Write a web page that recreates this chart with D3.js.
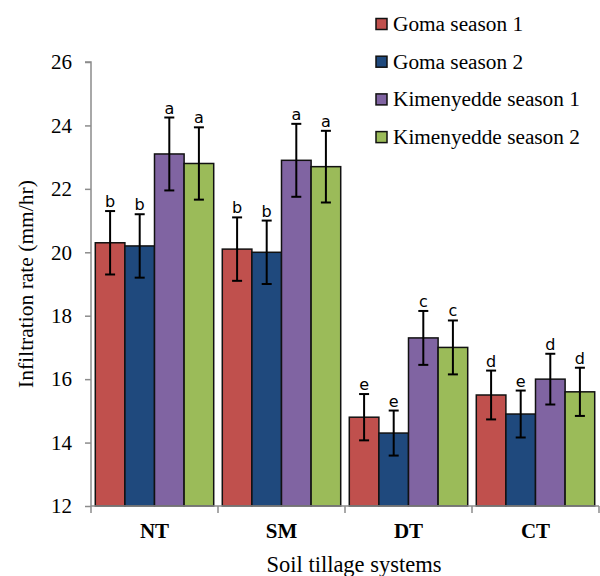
<!DOCTYPE html>
<html>
<head>
<meta charset="utf-8">
<script src="https://cdn.jsdelivr.net/npm/d3@7"></script>
<style>
  html, body { margin: 0; padding: 0; background: #fff; }
  svg { display: block; }
</style>
</head>
<body>
<svg id="chart" width="600" height="576"></svg>
<script>
// Tillage systems and the four site/season series
const categories = ["NT", "SM", "DT", "CT"];
const seriesNames = ["Goma season 1", "Goma season 2", "Kimenyedde season 1", "Kimenyedde season 2"];
const seriesColors = ["#C0504D", "#1F497D", "#8064A2", "#9BBB59"];

// Mean infiltration rate (mm/hr), one array per series, in category order
const gomaS1 = [20.3, 20.1, 14.8, 15.5];
const gomaS2 = [20.2, 20.0, 14.3, 14.9];
const kimS1  = [23.1, 22.9, 17.3, 16.0];
const kimS2  = [22.8, 22.7, 17.0, 15.6];

// Error bar half-widths
const errS1g = [1.0, 1.0, 0.73, 0.77];
const errS2g = [1.0, 1.0, 0.71, 0.74];
const errS1k = [1.15, 1.15, 0.85, 0.8];
const errS2k = [1.14, 1.13, 0.85, 0.76];

// Mean separation letters
const lettersS1g = ["b", "b", "e", "d"];
const lettersS2g = ["b", "b", "e", "e"];
const lettersS1k = ["a", "a", "c", "d"];
const lettersS2k = ["a", "a", "c", "d"];

const yTicks = [12, 14, 16, 18, 20, 22, 24, 26];

const values = [gomaS1, gomaS2, kimS1, kimS2];
const errors = [errS1g, errS2g, errS1k, errS2k];
const letters = [lettersS1g, lettersS2g, lettersS1k, lettersS2k];

const rows = [];
categories.forEach((c, ci) => {
  seriesNames.forEach((s, si) => {
    rows.push({ cat: c, series: s, si, value: values[si][ci], err: errors[si][ci], letter: letters[si][ci] });
  });
});

const svg = d3.select("#chart");
const margin = { left: 91, right: 1, top: 62, bottom: 70 };
const W = 600, H = 576;

const x = d3.scaleBand().domain(categories).range([margin.left, W - margin.right]).paddingInner(0).paddingOuter(0);
const xInner = d3.scaleBand().domain(seriesNames).range([0, x.bandwidth()]).paddingOuter(0.145).paddingInner(0);
const y = d3.scaleLinear().domain([12, 26]).range([H - margin.bottom, margin.top]);

const serif = "'Liberation Serif', 'Times New Roman', serif";
const sans = "'DejaVu Sans', Verdana, sans-serif";
const axisGray = "#8c8c8c";

// Bars
svg.append("g").selectAll("rect").data(rows).join("rect")
  .attr("x", d => x(d.cat) + xInner(d.series))
  .attr("y", d => y(d.value))
  .attr("width", xInner.bandwidth())
  .attr("height", d => y(12) - y(d.value))
  .attr("fill", d => seriesColors[d.si])
  .attr("stroke", "#111")
  .attr("stroke-width", 1.5);

// Error bars
const eb = svg.append("g").attr("stroke", "#000").attr("stroke-width", 2);
rows.forEach(d => {
  const cx = x(d.cat) + xInner(d.series) + xInner.bandwidth() / 2;
  const y1 = y(d.value + d.err), y0 = y(d.value - d.err);
  eb.append("line").attr("x1", cx).attr("x2", cx).attr("y1", y1).attr("y2", y0);
  eb.append("line").attr("x1", cx - 5).attr("x2", cx + 5).attr("y1", y1).attr("y2", y1);
  eb.append("line").attr("x1", cx - 5).attr("x2", cx + 5).attr("y1", y0).attr("y2", y0);
});

// Letters above error bars
svg.append("g").selectAll("text").data(rows).join("text")
  .attr("x", d => x(d.cat) + xInner(d.series) + xInner.bandwidth() / 2)
  .attr("y", d => y(d.value + d.err) - 4)
  .attr("text-anchor", "middle")
  .attr("font-family", sans)
  .attr("font-size", 16)
  .attr("fill", "#000")
  .text(d => d.letter);

// Y axis
const yAxis = svg.append("g")
  .attr("transform", `translate(${margin.left},0)`)
  .call(d3.axisLeft(y).tickValues(yTicks).tickSize(6).tickPadding(13).tickFormat(d3.format("d")));
yAxis.selectAll("path, line").attr("stroke", axisGray).attr("stroke-width", 1.5);
yAxis.select(".domain").attr("d", `M-6,${y(26)}H0V${y(12)}`);
yAxis.selectAll("text").attr("font-family", serif).attr("font-size", 21).attr("fill", "#000");

// X axis baseline with ticks at category boundaries
const xg = svg.append("g").attr("transform", `translate(0,${y(12)})`);
xg.append("line").attr("x1", margin.left).attr("x2", W - margin.right)
  .attr("y1", 0).attr("y2", 0).attr("stroke", axisGray).attr("stroke-width", 1.5);
const boundaries = categories.map(c => x(c)).concat([x(categories[categories.length - 1]) + x.bandwidth()]);
xg.selectAll("line.tick").data(boundaries).join("line").attr("class", "tick")
  .attr("x1", d => d).attr("x2", d => d).attr("y1", 0).attr("y2", 7)
  .attr("stroke", axisGray).attr("stroke-width", 1.5);
xg.selectAll("text").data(categories).join("text")
  .attr("x", d => x(d) + x.bandwidth() / 2)
  .attr("y", 32)
  .attr("text-anchor", "middle")
  .attr("font-family", serif)
  .attr("font-weight", "bold")
  .attr("font-size", 21)
  .text(d => d);

// Axis titles
svg.append("text")
  .attr("x", 354).attr("y", 572)
  .attr("text-anchor", "middle")
  .attr("font-family", serif).attr("font-size", 22.5)
  .text("Soil tillage systems");

svg.append("text")
  .attr("transform", `translate(33,${(y(12) + y(26)) / 2}) rotate(-90)`)
  .attr("text-anchor", "middle")
  .attr("font-family", serif).attr("font-size", 21.5)
  .text("Infiltration rate (mm/hr)");

// Legend
const legend = svg.append("g").attr("transform", "translate(376,0)");
seriesNames.forEach((s, i) => {
  const cy = 24 + i * 37.7;
  legend.append("rect").attr("x", 0).attr("y", cy - 5.5).attr("width", 11).attr("height", 11)
    .attr("fill", seriesColors[i]).attr("stroke", "#111").attr("stroke-width", 1.5);
  legend.append("text").attr("x", 17).attr("y", cy + 7)
    .attr("font-family", serif).attr("font-size", 21.3).text(s);
});
</script>
</body>
</html>
